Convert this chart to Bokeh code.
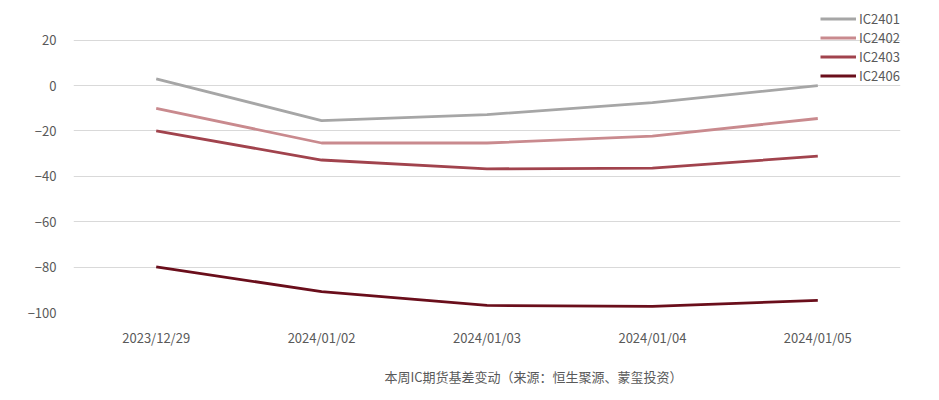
from bokeh.plotting import figure
from bokeh.models import Legend, LegendItem, Title
from bokeh.embed import file_html
from bokeh.resources import INLINE

dates = ["2023/12/29", "2024/01/02", "2024/01/03", "2024/01/04", "2024/01/05"]
ic2401 = [3.0, -15.4, -12.8, -7.5, 0.0]
ic2402 = [-10.0, -25.3, -25.3, -22.3, -14.5]
ic2403 = [-20.0, -32.8, -36.7, -36.4, -31.1]
ic2406 = [-79.9, -90.8, -96.9, -97.3, -94.7]
series_names = ["IC2401", "IC2402", "IC2403", "IC2406"]
colors = ["#a6a6a6", "#c98a8e", "#a1434d", "#6a0e1b"]
y_ticks = [20, 0, -20, -40, -60, -80, -100]
caption = "本周IC期货基差变动（来源：恒生聚源、蒙玺投资）"

FONT = "Noto Sans CJK SC"
TXT = "#595959"

p = figure(x_range=dates, y_range=(-100, 37.5), width=930, height=400,
           output_backend="svg", toolbar_location=None,
           min_border_left=73, min_border_right=30, min_border_top=0, min_border_bottom=86)
p.outline_line_color = None
p.background_fill_color = "white"
p.border_fill_color = "white"

renderers = []
for name, vals, c in zip(series_names, [ic2401, ic2402, ic2403, ic2406], colors):
    r = p.line(dates, vals, line_color=c, line_width=2.8)
    renderers.append((name, r))

p.xgrid.grid_line_color = None
p.ygrid.grid_line_color = "#d9d9d9"
p.ygrid.grid_line_width = 1
p.yaxis.ticker = y_ticks

for ax in (p.xaxis[0], p.yaxis[0]):
    ax.axis_line_color = None
    ax.major_tick_line_color = None
    ax.minor_tick_line_color = None
    ax.major_label_text_font = FONT
    ax.major_label_text_font_size = "13px"
    ax.major_label_text_color = TXT
p.xaxis.major_label_standoff = 9
p.yaxis.major_label_standoff = 11

legend = Legend(items=[LegendItem(label=n, renderers=[r]) for n, r in renderers],
                location=(747, 227), orientation="vertical",
                glyph_width=36, glyph_height=19, label_height=19, spacing=0,
                label_standoff=3, padding=0, margin=0,
                border_line_color=None, background_fill_alpha=0,
                label_text_font=FONT, label_text_font_size="13px", label_text_color=TXT)
p.add_layout(legend, "center")

cap = Title(text=caption, align="left", offset=311, standoff=30,
            text_font=FONT, text_font_size="13px", text_color=TXT,
            text_font_style="normal", text_line_height=1.0)
p.add_layout(cap, "below")

open("out.html", "w").write(file_html(p, INLINE))
